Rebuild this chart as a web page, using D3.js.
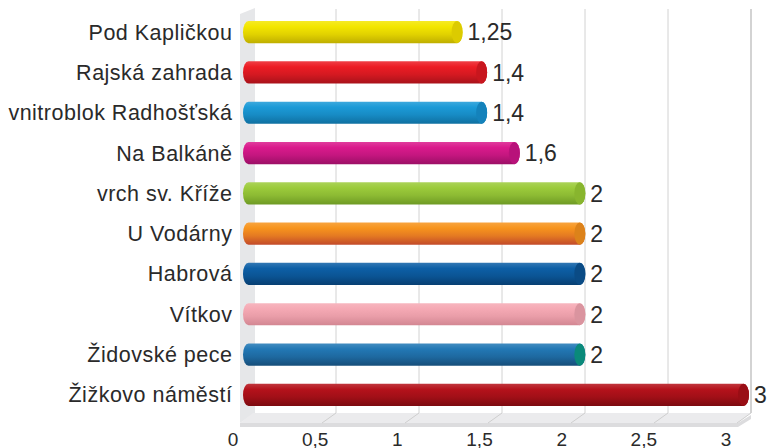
<!DOCTYPE html>
<html>
<head>
<meta charset="utf-8">
<script src="https://cdn.jsdelivr.net/npm/d3@7"></script>
<style>
  html, body { margin: 0; padding: 0; background: #fff; }
  svg { display: block; font-family: "Liberation Sans", Arial, sans-serif; }
</style>
</head>
<body>
<svg id="chart" width="768" height="448"></svg>
<script>
// Data
var categories = ["Pod Kapličkou", "Rajská zahrada", "vnitroblok Radhošťská", "Na Balkáně", "vrch sv. Kříže",
                  "U Vodárny", "Habrová", "Vítkov", "Židovské pece", "Žižkovo náměstí"];
var values = [1.25, 1.4, 1.4, 1.6, 2, 2, 2, 2, 2, 3];
var tickValues = [0, 0.5, 1, 1.5, 2, 2.5, 3];

// Palette: body, shadow, cap
var bodyColors = ["#f3e600", "#ec1c24", "#1b9ad7", "#da1a8c", "#9ccb3b", "#f7941d", "#0d5fa6", "#f5a9b4", "#2278b5", "#b5121b"];
var darkColors = ["#bfae00", "#a8121a", "#0f6fa0", "#9c0f66", "#6e9a24", "#c24a2a", "#073f72", "#d28692", "#164e7a", "#7c0a10"];
var capColors  = ["#dccb00", "#c8161e", "#1482bb", "#b8127a", "#88b52e", "#dc821a", "#0a4b85", "#da949f", "#0a8a7a", "#990e15"];

var czech = d3.formatLocale({decimal: ",", thousands: " ", grouping: [3], currency: ["", " Kč"]});
var fmt = czech.format("~g");

var svg = d3.select("#chart");

// Scales
var y = d3.scaleBand().domain(categories).range([12, 415]).paddingInner(0.45).paddingOuter(0.225);
var xBack = d3.scaleLinear().domain([0, 3]).range([253, 751]);   // back wall grid
var xFront = d3.scaleLinear().domain([0, 3]).range([233, 726]);  // tick labels
var xBar = d3.scaleLinear().domain([0, 3]).range([258, 749]);    // bar ends (perspective)
var barStart = 243;

var wallTop = 9, floorBack = 413, floorFront = 423, depth = 13;

// Left side wall
svg.append("polygon")
    .attr("points", [[240, 14], [255, wallTop - 1], [255, floorBack], [240, floorFront]].join(" "))
    .attr("fill", "#e6e7e9");

// Back wall grid lines
svg.append("g").selectAll("line")
    .data(tickValues.slice(1))
    .enter().append("line")
    .attr("x1", function (d) { return xBack(d); })
    .attr("x2", function (d) { return xBack(d); })
    .attr("y1", wallTop)
    .attr("y2", floorBack)
    .attr("stroke", function (d) { return d === 3 ? "#c4c4c4" : "#d2d2d2"; })
    .attr("stroke-width", function (d) { return d === 3 ? 1.5 : 1; });

// Floor
svg.append("polygon")
    .attr("points", [[xBack(0), floorBack], [xBack(3), floorBack], [xBack(3) - depth, floorFront], [xBack(0) - depth, floorFront]].join(" "))
    .attr("fill", "#ebebed");
svg.append("polygon")
    .attr("points", [[xBack(0) - depth, floorFront], [xBack(3) - depth, floorFront], [xBack(3), floorBack + 2], [xBack(3), floorBack + 6], [xBack(3) - depth, floorFront + 4], [xBack(0) - depth, floorFront + 4]].join(" "))
    .attr("fill", "#dcdcde");
svg.append("g").selectAll("line")
    .data(tickValues.slice(1))
    .enter().append("line")
    .attr("x1", function (d) { return xBack(d); })
    .attr("x2", function (d) { return xBack(d) - depth - 1; })
    .attr("y1", floorBack)
    .attr("y2", floorFront)
    .attr("stroke", "#cfcfcf")
    .attr("stroke-width", 1);

// Gradients for cylinders
var defs = svg.append("defs");
categories.forEach(function (c, i) {
    var g = defs.append("linearGradient")
        .attr("id", "grad" + i)
        .attr("x1", 0).attr("y1", 0).attr("x2", 0).attr("y2", 1);
    g.append("stop").attr("offset", "0%").attr("stop-color", d3.interpolateRgb(bodyColors[i], "#ffffff")(0.15));
    g.append("stop").attr("offset", "25%").attr("stop-color", bodyColors[i]);
    g.append("stop").attr("offset", "60%").attr("stop-color", d3.interpolateRgb(bodyColors[i], darkColors[i])(0.35));
    g.append("stop").attr("offset", "100%").attr("stop-color", darkColors[i]);
});

var bh = y.bandwidth();
var capRx = 5.5;

var bars = svg.append("g").selectAll("g")
    .data(categories)
    .enter().append("g");

bars.append("rect")
    .attr("x", barStart)
    .attr("y", function (d) { return y(d); })
    .attr("width", function (d, i) { return xBar(values[i]) - barStart; })
    .attr("height", bh)
    .attr("rx", capRx)
    .attr("ry", bh / 2)
    .attr("fill", function (d, i) { return "url(#grad" + i + ")"; });

bars.append("ellipse")
    .attr("cx", function (d, i) { return xBar(values[i]) - capRx; })
    .attr("cy", function (d) { return y(d) + bh / 2; })
    .attr("rx", capRx)
    .attr("ry", bh / 2)
    .attr("fill", function (d, i) { return capColors[i]; });

// Data labels
bars.append("text")
    .attr("x", function (d, i) { return xBar(values[i]) + 5; })
    .attr("y", function (d) { return y(d) + bh / 2; })
    .attr("dy", "0.36em")
    .attr("font-size", 23)
    .attr("fill", "#2a2a2a")
    .text(function (d, i) { return fmt(values[i]); });

// Category labels
svg.append("g").selectAll("text")
    .data(categories)
    .enter().append("text")
    .attr("x", 232.5)
    .attr("y", function (d) { return y(d) + bh / 2; })
    .attr("dy", "0.35em")
    .attr("text-anchor", "end")
    .attr("font-size", 21.5)
    .attr("letter-spacing", 0.5)
    .attr("fill", "#2a2a2a")
    .text(function (d) { return d; });

// X axis tick labels
svg.append("g").selectAll("text")
    .data(tickValues)
    .enter().append("text")
    .attr("x", function (d) { return xFront(d); })
    .attr("y", 446)
    .attr("text-anchor", "middle")
    .attr("font-size", 19)
    .attr("fill", "#2a2a2a")
    .text(function (d) { return fmt(d); });
</script>
</body>
</html>
